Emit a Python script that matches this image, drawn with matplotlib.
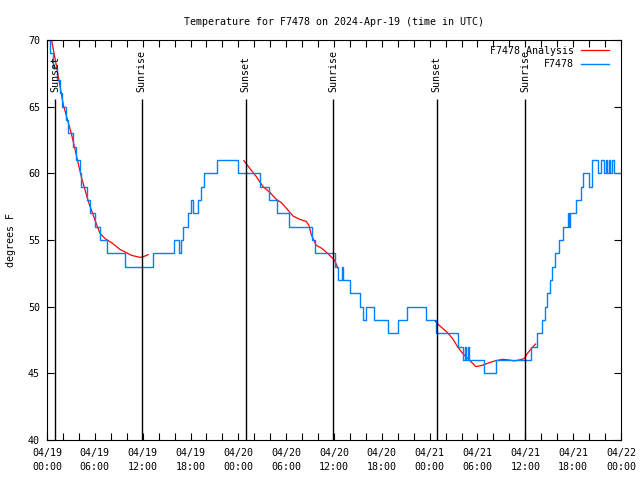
import matplotlib
matplotlib.use('Agg')
import matplotlib.pyplot as plt
import numpy as np

# observed temperature (hours after 2024-04-19 00:00 UTC, deg F), value holds until next point
obs_hours = [0.0, 0.38, 0.75, 1.25, 1.63, 1.88, 2.38, 2.63, 3.3, 3.63, 4.13, 4.3,
             4.97, 5.38, 6.01, 6.64, 7.51, 9.77, 13.24, 15.9, 16.5, 16.75, 17.07,
             17.66, 18.03, 18.35, 18.95, 19.37, 19.66, 21.33, 24.0, 26.67, 27.8,
             28.86, 30.3, 33.18, 33.6, 36.13, 36.56, 36.98, 37.13, 38.0, 39.28,
             39.7, 40.03, 41.0, 42.8, 44.08, 45.2, 47.52, 48.84, 51.5, 52.15,
             52.4, 52.5, 52.8, 52.9, 54.85, 56.29, 60.73, 61.48, 62.05, 62.48,
             62.73, 63.05, 63.36, 63.67, 64.17, 64.68, 65.3, 65.45, 65.65, 66.33,
             66.93, 67.24, 67.99, 68.4, 69.16, 69.45, 69.87, 70.08, 70.29, 70.5,
             70.6, 70.84, 71.1, 72.0]
obs_temp = [70, 69, 68, 67, 66, 65, 64, 63, 62, 61, 60, 59,
            58, 57, 56, 55, 54, 53, 54, 55, 54, 55, 56,
            57, 58, 57, 58, 59, 60, 61, 60, 59, 58,
            57, 56, 55, 54, 53, 52, 53, 52, 51, 50,
            49, 50, 49, 48, 49, 50, 49, 48, 47, 46,
            47, 46, 47, 46, 45, 46, 47, 48, 49, 50,
            51, 52, 53, 54, 55, 56, 57, 56, 57, 58,
            59, 60, 59, 61, 60, 61, 60, 61, 60, 61,
            60, 61, 60, 60]

# analysis curve, three pieces
ana1_hours = [0.6, 1.2, 2.04, 3.09, 4.34, 5.18, 6.01, 6.64, 7.3, 8.1, 9.14, 10.6, 11.65, 12.1, 12.69]
ana1_temp = [69.9, 68.0, 65.15, 62.9, 59.65, 57.9, 56.5, 55.5, 55.1, 54.8, 54.3, 53.85, 53.7, 53.75, 53.9]
ana2_hours = [24.7, 25.4, 26.26, 27.1, 27.9, 28.76, 29.4, 30.0, 30.85, 31.7, 32.5, 32.85,
              33.15, 33.77, 34.4, 35.2, 36.06, 36.48]
ana2_temp = [60.95, 60.4, 59.75, 59.0, 58.6, 58.05, 57.8, 57.4, 56.8, 56.55, 56.4, 56.1,
             55.4, 54.6, 54.4, 54.0, 53.5, 52.9]
ana3_hours = [48.7, 49.2, 50.25, 50.88, 51.5, 52.13, 52.97, 53.8, 54.6, 55.47, 56.3,
              57.14, 57.98, 58.6, 59.2, 59.86, 60.27, 60.8, 61.3]
ana3_temp = [48.9, 48.6, 48.05, 47.6, 47.0, 46.5, 46.0, 45.5, 45.6, 45.8, 45.95,
             46.05, 46.0, 45.93, 46.0, 46.1, 46.5, 46.9, 47.2]

event_hours = [1.0, 11.9, 24.9, 35.9, 48.9, 60.0]
event_names = ['Sunset', 'Sunrise', 'Sunset', 'Sunrise', 'Sunset', 'Sunrise']

xtick_hours = [0, 6, 12, 18, 24, 30, 36, 42, 48, 54, 60, 66, 72]
xtick_labels = ['04/19\n00:00', '04/19\n06:00', '04/19\n12:00', '04/19\n18:00',
                '04/20\n00:00', '04/20\n06:00', '04/20\n12:00', '04/20\n18:00',
                '04/21\n00:00', '04/21\n06:00', '04/21\n12:00', '04/21\n18:00',
                '04/22\n00:00']
ytick_vals = [40, 45, 50, 55, 60, 65, 70]

plt.rcParams['font.family'] = ['DejaVu Sans Mono']
fs = 7.2

fig = plt.figure(figsize=(6.4, 4.8), dpi=100)
ax = fig.add_axes([47 / 640, 40 / 480, 574 / 640, 400 / 480])

ax.plot(ana1_hours, ana1_temp, color='#ff0000', lw=0.9, label='F7478 Analysis')
ax.plot(ana2_hours, ana2_temp, color='#ff0000', lw=0.9)
ax.plot(ana3_hours, ana3_temp, color='#ff0000', lw=0.9)
ax.plot(obs_hours, obs_temp, color='#0080ff', lw=1.0, drawstyle='steps-post', label='F7478')

for h, name in zip(event_hours, event_names):
    ax.vlines(h, 40, 65.6, color='black', lw=1.0)
    ax.text(h, 66.1, name, rotation=90, ha='center', va='bottom', fontsize=fs)

ax.set_xlim(0, 72)
ax.set_ylim(40, 70)
ax.set_xticks(xtick_hours, labels=xtick_labels, fontsize=fs, linespacing=1.5)
ax.set_xticks(np.arange(0, 73, 2), minor=True)
ax.set_yticks(ytick_vals, labels=[str(v) for v in ytick_vals], fontsize=fs)
ax.tick_params(which='both', direction='in', top=True, right=True, length=5, width=0.8)
ax.tick_params(axis='x', pad=6)
ax.tick_params(axis='y', pad=5)
for s in ax.spines.values():
    s.set_linewidth(0.8)

ax.set_title('Temperature for F7478 on 2024-Apr-19 (time in UTC)', fontsize=fs, pad=11)
ax.set_ylabel('degrees F', fontsize=fs)
ax.yaxis.set_label_coords(-0.054, 0.5)

ax.legend(loc='upper right', bbox_to_anchor=(0.979, 0.985), frameon=False, fontsize=fs,
          markerfirst=False, handlelength=2.8, handletextpad=0.7, labelspacing=0.35,
          borderpad=0, borderaxespad=0)

plt.savefig('out.png', dpi=100)
